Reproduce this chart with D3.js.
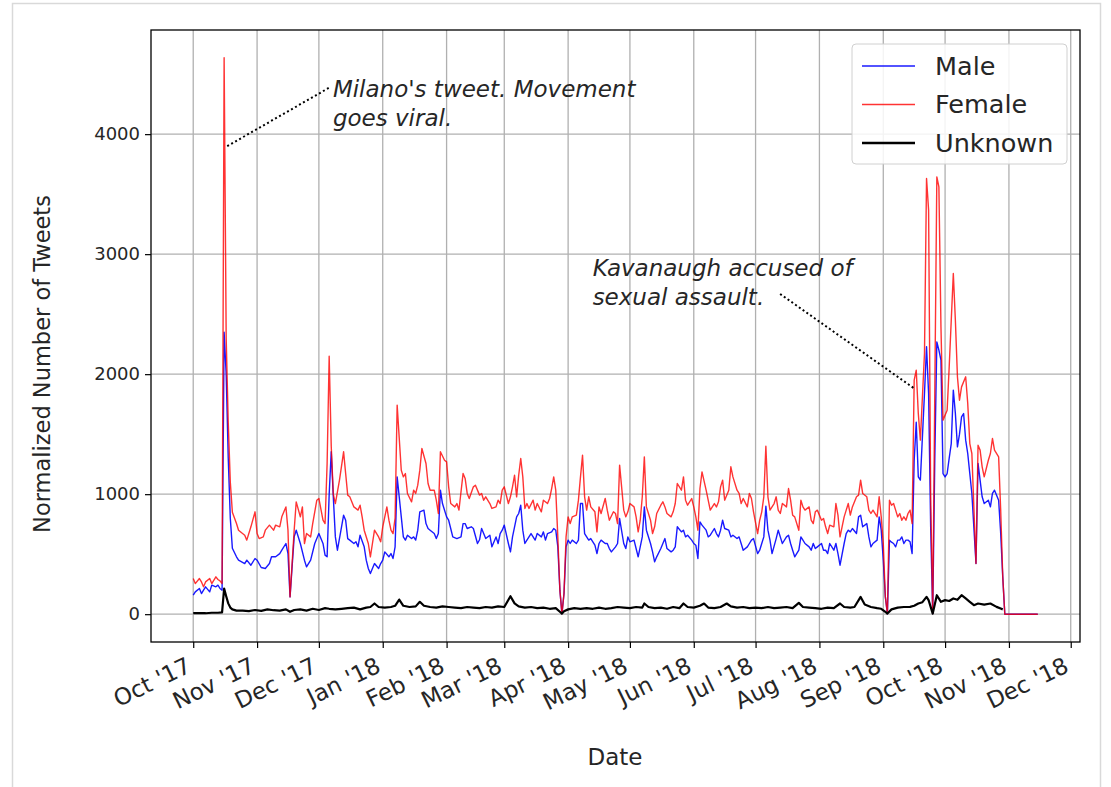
<!DOCTYPE html>
<html><head><meta charset="utf-8">
<script src="https://cdn.jsdelivr.net/npm/d3@7"></script>
<style>
body{margin:0;background:#fff;}
svg{display:block;}
text{font-family:"DejaVu Sans",sans-serif;fill:#262626;}
</style>
</head><body>
<svg id="chart" width="1111" height="787"></svg>
<script>
// ---------------- DATA ----------------
const startDate = "2017-10-01";           // day 0 of the series
const monthTickLabels = ["Oct '17","Nov '17","Dec '17","Jan '18","Feb '18","Mar '18","Apr '18","May '18","Jun '18","Jul '18","Aug '18","Sep '18","Oct '18","Nov '18","Dec '18"];
const yTicks = [0, 1000, 2000, 3000, 4000];
const seriesNames = ["Male", "Female", "Unknown"];

// [day since startDate, normalized tweets]
const male = [[0,158],[1,186],[3,214],[4,172],[5,200],[6,228],[8,186],[9,242],[11,228],[12,242],[13,214],[14,200],[15,2350],[16,2000],[17,1300],[18,800],[19,550],[21,478],[22,450],[25,422],[26,450],[28,408],[30,464],[31,450],[33,389],[35,381],[37,422],[38,478],[40,478],[42,505],[43,533],[45,589],[46,505],[47,144],[49,644],[50,700],[52,589],[54,450],[55,394],[57,450],[59,589],[61,672],[63,589],[64,492],[65,478],[66,1000],[67,1353],[68,978],[69,644],[70,533],[72,728],[73,825],[74,783],[75,630],[76,617],[78,589],[79,603],[80,561],[81,658],[83,561],[84,450],[85,381],[86,339],[87,381],[88,422],[90,381],[91,422],[92,450],[93,519],[95,478],[96,505],[97,464],[98,561],[99,1144],[101,811],[102,644],[103,617],[104,658],[106,630],[107,644],[108,617],[109,700],[110,853],[112,867],[113,755],[114,714],[115,700],[117,672],[118,630],[119,672],[120,1033],[121,922],[123,811],[124,783],[125,714],[126,644],[128,630],[130,644],[131,755],[132,755],[133,714],[135,728],[136,714],[138,589],[139,620],[140,714],[141,672],[142,630],[144,658],[145,561],[147,644],[148,589],[149,672],[150,700],[151,742],[153,589],[154,519],[155,644],[156,728],[157,811],[158,839],[159,908],[160,700],[161,589],[162,617],[163,644],[164,672],[166,617],[167,672],[169,644],[170,686],[171,617],[172,672],[174,686],[175,714],[176,700],[177,561],[178,200],[179,5],[180,172],[181,561],[182,617],[183,589],[184,617],[186,589],[187,617],[188,922],[189,922],[190,672],[191,644],[192,617],[193,630],[195,575],[196,505],[197,589],[198,617],[200,589],[201,589],[202,547],[203,519],[205,561],[206,589],[207,797],[209,589],[210,547],[211,644],[212,603],[214,617],[215,547],[216,478],[217,561],[218,644],[219,894],[220,700],[222,589],[223,519],[224,436],[225,478],[227,547],[228,589],[229,630],[230,547],[232,519],[233,533],[234,561],[235,728],[237,686],[238,700],[239,644],[240,658],[242,617],[243,589],[244,575],[245,464],[246,769],[247,742],[249,700],[250,644],[251,658],[253,714],[254,672],[255,644],[256,700],[257,783],[258,714],[260,700],[261,644],[262,658],[264,630],[265,644],[266,589],[267,533],[269,561],[270,589],[271,617],[272,630],[274,505],[275,533],[276,589],[277,644],[278,900],[279,700],[280,617],[281,505],[283,630],[284,700],[285,644],[286,589],[288,644],[289,658],[290,589],[291,533],[292,478],[294,533],[295,644],[296,617],[297,589],[299,561],[300,533],[301,589],[302,547],[303,561],[305,589],[306,533],[307,533],[308,505],[309,589],[311,533],[312,589],[313,505],[314,408],[316,589],[317,672],[318,700],[319,686],[320,714],[322,672],[323,811],[324,825],[325,728],[327,755],[328,644],[329,561],[330,589],[332,617],[333,811],[334,700],[335,450],[336,144],[337,5],[338,617],[339,600],[340,589],[341,561],[342,617],[343,617],[344,644],[345,589],[346,617],[347,617],[348,603],[349,505],[350,1283],[351,1600],[352,1144],[353,1117],[355,1839],[356,2228],[357,1839],[358,728],[359,5],[360,1283],[361,2269],[362,2200],[363,2117],[364,1172],[365,1144],[366,1172],[367,1300],[368,1422],[369,1867],[370,1672],[371,1394],[372,1500],[373,1644],[374,1672],[375,1450],[376,1339],[377,1172],[378,1006],[380,422],[381,1256],[382,1117],[383,978],[384,922],[386,950],[387,894],[388,1006],[389,1033],[391,950],[392,672],[393,311],[394,0],[410,0]];

const female = [[0,297],[1,255],[3,297],[4,269],[5,228],[6,269],[8,297],[9,255],[11,311],[12,289],[13,278],[14,255],[15,4636],[16,2300],[17,1600],[18,1100],[19,850],[21,755],[22,700],[25,658],[26,617],[28,728],[30,853],[31,672],[32,630],[34,644],[35,700],[37,742],[39,700],[40,742],[42,728],[43,811],[45,894],[46,700],[47,144],[49,700],[50,936],[52,811],[53,894],[54,589],[55,672],[57,644],[58,755],[60,950],[61,964],[63,783],[64,755],[65,1255],[66,2150],[67,1400],[68,1000],[69,922],[71,1117],[73,1353],[74,1172],[75,992],[76,978],[78,894],[80,867],[81,908],[82,811],[83,700],[85,589],[86,478],[87,589],[88,700],[90,644],[91,603],[92,728],[94,894],[95,783],[96,700],[97,672],[98,800],[99,1742],[101,1200],[102,1144],[103,1172],[104,1006],[106,936],[107,1033],[108,1006],[109,1075],[110,1200],[111,1381],[113,1256],[114,1089],[115,1033],[117,1033],[118,950],[119,839],[120,1353],[122,1283],[123,1269],[124,1061],[125,922],[127,894],[128,922],[129,867],[131,1172],[132,1131],[133,1006],[134,964],[136,1061],[137,1075],[139,992],[140,1006],[141,950],[142,978],[144,922],[145,881],[147,894],[148,950],[149,922],[150,1033],[151,1061],[153,922],[154,978],[155,1061],[156,1158],[157,978],[158,1158],[159,1297],[160,1144],[161,881],[162,922],[163,881],[165,950],[166,867],[167,922],[169,853],[170,950],[172,922],[173,964],[174,1047],[175,1144],[176,1033],[177,644],[178,200],[179,5],[180,172],[181,644],[182,811],[183,755],[184,811],[186,825],[187,950],[188,1144],[189,1325],[190,978],[191,867],[192,978],[193,894],[195,853],[196,686],[197,894],[198,839],[200,964],[201,867],[202,783],[204,853],[205,839],[206,755],[207,1242],[209,867],[210,811],[211,853],[212,922],[214,894],[215,811],[216,686],[217,783],[218,978],[219,1311],[220,894],[222,783],[223,672],[224,728],[225,839],[227,908],[228,936],[229,894],[230,839],[232,811],[233,853],[234,922],[235,1089],[237,1033],[238,1144],[239,950],[240,908],[242,964],[243,894],[244,811],[245,700],[246,1047],[247,1186],[249,1033],[250,950],[251,867],[253,922],[254,894],[255,936],[256,1061],[257,1117],[258,950],[260,1033],[261,1228],[262,1144],[264,1033],[265,1006],[266,922],[267,964],[269,894],[270,1006],[271,964],[272,853],[274,672],[275,783],[276,853],[277,978],[278,1400],[279,978],[280,867],[282,922],[283,978],[284,867],[285,839],[286,922],[288,894],[289,1047],[290,950],[291,825],[292,811],[294,700],[295,950],[296,894],[297,867],[299,894],[300,783],[301,755],[302,853],[303,867],[305,783],[306,797],[307,728],[308,672],[309,742],[311,728],[312,922],[313,825],[314,644],[316,811],[317,867],[318,922],[319,825],[320,894],[322,978],[323,992],[324,1117],[325,1006],[327,978],[328,867],[329,839],[330,867],[332,811],[333,978],[334,811],[335,589],[336,144],[337,5],[338,950],[339,908],[340,922],[341,867],[342,811],[343,839],[344,783],[345,811],[346,783],[347,839],[348,867],[349,755],[350,1950],[351,2033],[352,1672],[353,1450],[355,2172],[356,3631],[357,3367],[358,1006],[359,5],[360,1839],[361,3644],[362,3561],[363,2394],[364,1617],[366,1700],[367,2061],[369,2839],[370,2450],[371,1978],[372,1783],[373,1894],[375,1978],[376,1756],[377,1422],[378,1339],[380,422],[381,1408],[382,1367],[383,1228],[384,1144],[386,1283],[387,1339],[388,1464],[389,1367],[391,1311],[392,867],[393,311],[394,0],[410,0]];

const unknown = [[0,8],[3,10],[6,8],[9,12],[12,12],[14,15],[15,214],[16,150],[17,90],[18,55],[19,40],[21,30],[24,30],[27,25],[30,35],[33,28],[36,40],[39,33],[42,30],[45,40],[47,20],[49,35],[52,40],[55,30],[58,45],[61,35],[64,50],[66,45],[69,40],[72,45],[75,50],[78,55],[81,40],[84,55],[86,60],[88,89],[90,60],[93,55],[96,60],[98,70],[100,122],[102,70],[105,60],[108,65],[110,103],[112,70],[115,60],[118,55],[121,65],[124,60],[127,55],[130,50],[133,60],[136,55],[139,50],[142,60],[145,55],[148,65],[151,60],[154,150],[156,90],[158,65],[161,55],[164,60],[167,50],[170,55],[173,45],[176,50],[178,20],[179,5],[180,25],[182,40],[185,50],[188,45],[191,50],[194,45],[197,55],[200,45],[203,50],[206,60],[209,55],[212,50],[215,60],[218,55],[219,89],[221,60],[224,50],[227,55],[230,45],[233,60],[236,50],[238,89],[240,60],[243,55],[246,70],[248,89],[250,55],[253,50],[256,60],[259,89],[261,65],[264,55],[267,60],[270,50],[273,55],[276,50],[279,60],[282,50],[285,55],[288,60],[291,50],[294,94],[296,60],[299,55],[302,50],[305,45],[308,55],[311,50],[314,89],[316,60],[319,55],[321,60],[324,144],[326,80],[329,60],[332,50],[334,45],[336,20],[337,5],[339,40],[342,55],[345,60],[348,61],[350,70],[352,89],[354,100],[356,144],[357,117],[359,5],[361,158],[363,103],[365,117],[367,110],[369,131],[371,120],[373,158],[375,131],[377,103],[379,75],[381,89],[384,80],[387,89],[390,61],[392,47],[393,40]];

// annotations: point (day,value) -> line end (day,value); text anchor (day,value)
const annotations = [
  {lines:["Milano's tweet. Movement","goes viral."], pDay:16.5, pVal:3900, eDay:66.3, eVal:4390, tDay:67.8, tVal:4377},
  {lines:["Kavanaugh accused of","sexual assault."], pDay:349.6, pVal:1886, eDay:284.2, eVal:2677, tDay:193.9, tVal:2885}
];

// ---------------- CHART ----------------
const svg = d3.select("#chart");
const W = 1111, H = 787;
const plot = {left:151, right:1080, top:30, bottom:642};
const parse = d3.timeParse("%Y-%m-%d");
const d0 = parse(startDate);
const toDate = d => new Date(d0.getTime() + d*86400000);
const lastDay = d3.max(female, d => d[0]);
const pad = lastDay*0.05;
const x = d3.scaleTime().domain([toDate(-pad), toDate(lastDay+pad)]).range([plot.left, plot.right]);
const ymax = d3.max(female, d => d[1]);
const y = d3.scaleLinear().domain([-0.05*ymax, 1.05*ymax]).range([plot.bottom, plot.top]);

// outer panel frame
svg.append("rect").attr("width",W).attr("height",H).attr("fill","#fff");
svg.append("rect").attr("x",12.5).attr("y",3.5).attr("width",1088).attr("height",800)
  .attr("fill","none").attr("stroke","#d9d9d9").attr("stroke-width",1.5);

const monthDates = d3.timeMonth.range(d0, d3.timeMonth.offset(d0, monthTickLabels.length));

// grid
const grid = svg.append("g");
grid.selectAll(".gx").data(monthDates).join("line")
  .attr("x1",d=>x(d)).attr("x2",d=>x(d)).attr("y1",plot.top).attr("y2",plot.bottom)
  .attr("stroke","#b0b0b0").attr("stroke-width",1.3);
grid.selectAll(".gy").data(yTicks).join("line")
  .attr("x1",plot.left).attr("x2",plot.right).attr("y1",d=>y(d)).attr("y2",d=>y(d))
  .attr("stroke","#b0b0b0").attr("stroke-width",1.3);

// lines
const line = d3.line().x(d=>x(toDate(d[0]))).y(d=>y(d[1]));
svg.append("clipPath").attr("id","clp").append("rect")
  .attr("x",plot.left).attr("y",plot.top).attr("width",plot.right-plot.left).attr("height",plot.bottom-plot.top);
const lg = svg.append("g").attr("clip-path","url(#clp)");
const styles = [
  {data:male, color:"#0000ff", w:1.4, op:0.9},
  {data:female, color:"#ff0000", w:1.4, op:0.8},
  {data:unknown, color:"#000000", w:2.2, op:1}
];
styles.forEach(s => {
  lg.append("path").datum(s.data).attr("d",line).attr("fill","none")
    .attr("stroke",s.color).attr("stroke-width",s.w).attr("stroke-opacity",s.op)
    .attr("stroke-linejoin","round");
});

// frame
svg.append("rect").attr("x",plot.left).attr("y",plot.top)
  .attr("width",plot.right-plot.left).attr("height",plot.bottom-plot.top)
  .attr("fill","none").attr("stroke","#000").attr("stroke-width",1.3);

// axes
const xAxis = d3.axisBottom(x).tickValues(monthDates).tickSize(6).tickSizeOuter(0)
  .tickFormat((d,i)=>monthTickLabels[i]);
const gx = svg.append("g").attr("transform",`translate(0,${plot.bottom})`).call(xAxis);
gx.select(".domain").remove();
gx.selectAll("line").attr("stroke","#000").attr("stroke-width",1.2);
gx.selectAll("text").attr("font-size",23).attr("fill","#262626")
  .attr("text-anchor","end").attr("dy",null).attr("y",null).attr("x",null)
  .attr("transform","translate(-1,29) rotate(-26)");

const yAxis = d3.axisLeft(y).tickValues(yTicks).tickSize(6).tickSizeOuter(0).tickFormat(d3.format("d"));
const gy = svg.append("g").attr("transform",`translate(${plot.left},0)`).call(yAxis);
gy.select(".domain").remove();
gy.selectAll("line").attr("stroke","#000").attr("stroke-width",1.2);
gy.selectAll("text").attr("font-size",18).attr("fill","#262626").attr("x",-11);

// axis labels
svg.append("text").attr("x",615).attr("y",765).attr("text-anchor","middle")
  .attr("font-size",23).text("Date");
svg.append("text").attr("transform","translate(50,364) rotate(-90)").attr("text-anchor","middle")
  .attr("font-size",22.5).text("Normalized Number of Tweets");

// annotations
annotations.forEach(a => {
  svg.append("line").attr("x1",x(toDate(a.pDay))).attr("y1",y(a.pVal))
    .attr("x2",x(toDate(a.eDay))).attr("y2",y(a.eVal))
    .attr("stroke","#000").attr("stroke-width",2).attr("stroke-dasharray","2,2.6");
  const tx = x(toDate(a.tDay));
  const t = svg.append("text").attr("x",tx).attr("y",y(a.tVal))
    .attr("font-size",23).attr("font-style","italic").attr("fill","#262626");
  a.lines.forEach((l,i)=> t.append("tspan").attr("x",tx).attr("dy",i===0?"0.35em":"1.25em").text(l));
});

// legend
const leg = svg.append("g");
leg.append("rect").attr("x",852).attr("y",44).attr("width",215).attr("height",120).attr("rx",4)
  .attr("fill","#fff").attr("fill-opacity",0.85).attr("stroke","#d0d0d0");
seriesNames.forEach((n,i) => {
  const yy = 66 + i*38.5;
  leg.append("line").attr("x1",862).attr("x2",915).attr("y1",yy).attr("y2",yy)
    .attr("stroke",styles[i].color).attr("stroke-width",i===2?2.5:1.3).attr("stroke-opacity",styles[i].op);
  leg.append("text").attr("x",935).attr("y",yy).attr("dy","0.35em").attr("font-size",25.5).text(n);
});
</script>
</body></html>
